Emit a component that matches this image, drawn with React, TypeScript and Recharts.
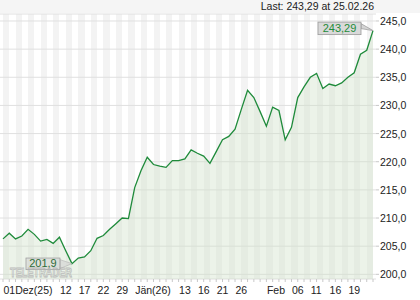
import React from "react";
import {
  AreaChart,
  Area,
  XAxis,
  YAxis,
  CartesianGrid,
  ReferenceDot,
} from "recharts";

// trading days, 01.12.2025 - 25.02.2026
const days: string[] = [
  "2025-12-01", "2025-12-02", "2025-12-03", "2025-12-04", "2025-12-05",
  "2025-12-08", "2025-12-09", "2025-12-10", "2025-12-11", "2025-12-12",
  "2025-12-15", "2025-12-16", "2025-12-17", "2025-12-18", "2025-12-19",
  "2025-12-22", "2025-12-23", "2025-12-24", "2025-12-29", "2025-12-30",
  "2025-12-31",
  "2026-01-02", "2026-01-05", "2026-01-06", "2026-01-07", "2026-01-08",
  "2026-01-09", "2026-01-12", "2026-01-13", "2026-01-14", "2026-01-15",
  "2026-01-16", "2026-01-19", "2026-01-20", "2026-01-21", "2026-01-22",
  "2026-01-23", "2026-01-26", "2026-01-27", "2026-01-28", "2026-01-29",
  "2026-01-30",
  "2026-02-02", "2026-02-03", "2026-02-04", "2026-02-05", "2026-02-06",
  "2026-02-09", "2026-02-10", "2026-02-11", "2026-02-12", "2026-02-13",
  "2026-02-16", "2026-02-17", "2026-02-18", "2026-02-19", "2026-02-20",
  "2026-02-23", "2026-02-24", "2026-02-25",
];

const prices: number[] = [
  206.3, 207.3, 206.3, 206.8, 208.0, 207.1, 205.9, 206.2, 205.5, 206.6,
  204.2, 201.9, 202.9, 203.1, 204.2, 206.4, 206.9, 208.0, 209.0, 210.0,
  209.9,
  215.4, 218.4, 220.8, 219.5, 219.2, 219.0, 220.2, 220.2, 220.5, 222.1,
  221.5, 221.0, 219.7, 221.8, 223.9, 224.5, 225.8, 229.3, 232.7, 231.4,
  228.9,
  226.3, 229.7, 229.1, 223.9, 226.1, 231.4, 233.3, 235.0, 235.7, 233.0,
  233.8, 233.5, 234.0, 235.0, 235.8, 239.1, 239.8, 243.29,
];

const labelDays: string[] = [
  "2025-12-01", "2025-12-12", "2025-12-17", "2025-12-22", "2025-12-29",
  "2026-01-02", "2026-01-13", "2026-01-16", "2026-01-21", "2026-01-26",
  "2026-02-02", "2026-02-06", "2026-02-11", "2026-02-16", "2026-02-19",
];
const labelTexts: string[] = [
  "01Dez(25)", "12", "17", "22", "29",
  "Jän(26)", "13", "16", "21", "26",
  "Feb", "06", "11", "16", "19",
];

const yTicks: number[] = [
  200, 202.5, 205, 207.5, 210, 212.5, 215, 217.5, 220, 222.5,
  225, 227.5, 230, 232.5, 235, 237.5, 240, 242.5, 245,
];

const data = days.map((d, i) => ({ day: d, price: prices[i] }));

const font = "'Liberation Sans', Arial, sans-serif";
const fmt = (v: number, digits: number) => v.toFixed(digits).replace(".", ",");

const lastIdx = prices.length - 1;
const minIdx = prices.indexOf(Math.min(...prices));

const XTick = ({ x, y, payload }: any) => {
  const i = labelDays.indexOf(payload.value);
  if (i < 0) return null;
  return (
    <text x={x + 0.5} y={y} dy={10} fontSize={10.5} fontFamily={font} fill="#222" textAnchor="start">
      {labelTexts[i]}
    </text>
  );
};

const YTick = ({ x, y, payload }: any) => (
  <text x={x} y={y} dy={4} fontSize={10.5} fontFamily={font} fill="#222" textAnchor="start">
    {fmt(payload.value, 1)}
  </text>
);

// box with value for the last price
const LastBox = ({ cx, cy }: any) => (
  <g>
    <polygon
      points={`${cx - 12},${cy - 7} ${cx},${cy} ${cx - 12},${cy - 2}`}
      fill="#d4d4d4"
      stroke="#a0a0a0"
      strokeWidth={0.8}
    />
    <rect x={cx - 55} y={cy - 8.5} width={43} height={12.5} fill="#d9d9d9" stroke="#9c9c9c" strokeWidth={0.8} />
    <text x={cx - 33.5} y={cy + 1.8} textAnchor="middle" fontSize={11} fontFamily={font} fill="#1e8c3a">
      {fmt(prices[lastIdx], 2)}
    </text>
  </g>
);

// box with value for the low
const MinBox = ({ cx, cy }: any) => (
  <g>
    <polygon
      points={`${cx - 12},${cy - 4} ${cx},${cy} ${cx - 12},${cy + 5}`}
      fill="#d0d0d0"
      fillOpacity={0.6}
      stroke="#b0b0b0"
      strokeWidth={0.6}
    />
    <rect x={cx - 46} y={cy - 5.6} width={34} height={11.6} fill="#cfcfcf" fillOpacity={0.5} stroke="#a0a0a0" strokeWidth={0.8} />
    <text x={cx - 29} y={cy + 3.8} textAnchor="middle" fontSize={11} fontFamily={font} fill="#2e6b38">
      {fmt(prices[minIdx], 1)}
    </text>
  </g>
);

export default function App() {
  return (
    <div style={{ position: "absolute", left: 0, top: 0, width: 420, height: 300, background: "#fff" }}>
      <svg width={420} height={300} style={{ position: "absolute", left: 0, top: 0 }}>
        <rect x={0} y={0} width={420} height={13} fill="#f5f5f5" />
        <text x={374} y={10} textAnchor="end" fontSize={10.5} fontFamily={font} fill="#222">
          Last: 243,29 at 25.02.26
        </text>
      </svg>
      <div style={{ position: "absolute", left: 0, top: 0 }}>
        <AreaChart width={420} height={300} data={data} margin={{ top: 14, right: 0, bottom: 0, left: 0 }}>
          {/* day stripes */}
          <CartesianGrid horizontal={false} stroke="none" verticalFill={["#ffffff", "#f3f3f3"]} />
          <CartesianGrid vertical={false} stroke="#e0e0e0" />
          <XAxis
            dataKey="day"
            interval={0}
            padding={{ left: 3, right: 3 }}
            height={21}
            tickSize={3}
            tickMargin={2}
            tickLine={{ stroke: "#c8c8c8" }}
            axisLine={false}
            tick={<XTick />}
          />
          <YAxis
            orientation="right"
            width={44}
            domain={[199.17, 246.24]}
            ticks={yTicks}
            allowDataOverflow
            tickSize={3}
            tickMargin={1}
            tickLine={{ stroke: "#c8c8c8" }}
            axisLine={false}
            tick={<YTick />}
          />
          <Area
            type="linear"
            dataKey="price"
            stroke="#1f8b3b"
            strokeWidth={1.3}
            fill="#cfe0c8"
            fillOpacity={0.4}
            dot={false}
            activeDot={false}
            isAnimationActive={false}
          />
          <ReferenceDot x={days[minIdx]} y={prices[minIdx]} r={1} ifOverflow="visible" shape={<MinBox />} />
          <ReferenceDot x={days[lastIdx]} y={prices[lastIdx]} r={1} ifOverflow="visible" shape={<LastBox />} />
        </AreaChart>
      </div>
      <svg width={420} height={300} style={{ position: "absolute", left: 0, top: 0, pointerEvents: "none" }}>
        <text
          x={10}
          y={276.5}
          fontSize={12}
          fontWeight="bold"
          fontFamily={font}
          fill="none"
          stroke="#b4b4b4"
          strokeWidth={0.8}
          textLength={62}
          lengthAdjust="spacingAndGlyphs"
          opacity={0.85}
        >
          TELETRADER
        </text>
      </svg>
    </div>
  );
}
